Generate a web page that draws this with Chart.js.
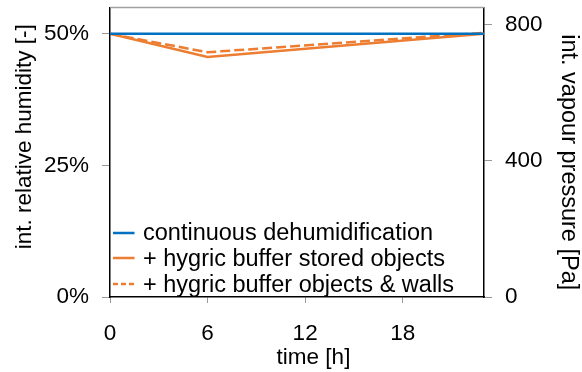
<!DOCTYPE html>
<html><head><meta charset="utf-8">
<script src="https://cdn.jsdelivr.net/npm/chart.js@4"></script>
<style>html,body{margin:0;padding:0;background:#fff}#wrap{width:582px;height:372px}</style>
</head><body><div id="wrap"><canvas id="c" width="582" height="372"></canvas></div>
<script>
const timeH = [0, 6, 23];
const continuousRH = [50, 50, 50];
const storedObjectsRH = [50, 45.6, 50];
const objectsWallsRH = [50, 46.5, 50.2];
const seriesLabels = ['continuous dehumidification', '+ hygric buffer stored objects', '+ hygric buffer objects & walls'];
const axisTitles = ['time [h]', 'int. relative humidity [-]', 'int. vapour pressure [Pa]'];
const timeTicks = [0, 6, 12, 18];
const rhTicks = [0, 25, 50];
const pTicks = [0, 400, 800];

const FONT = 'Liberation Sans, Arial, sans-serif';
const BLUE = '#0070C0', ORANGE = '#ED7D31';
const toXY = (ys) => ys.map((y, i) => ({x: timeH[i], y}));

const decoPlugin = {
  id: 'deco',
  afterDatasetsDraw(chart) {
    const ctx = chart.ctx, a = chart.chartArea;
    const lineYs = [a.bottom - 64, a.bottom - 39, a.bottom - 13];
    const baseYs = [a.bottom - 57, a.bottom - 31.5, a.bottom - 5.5];
    ctx.save();
    ctx.font = '23.5px ' + FONT;
    ctx.textBaseline = 'alphabetic';
    chart.data.datasets.forEach((ds, i) => {
      ctx.strokeStyle = ds.borderColor;
      ctx.lineWidth = 2.5;
      ctx.setLineDash(ds.borderDash && ds.borderDash.length ? [5, 3] : []);
      ctx.beginPath(); ctx.moveTo(a.left + 3, lineYs[i]); ctx.lineTo(a.left + 24.5, lineYs[i]); ctx.stroke();
      ctx.setLineDash([]);
      ctx.fillStyle = '#000';
      ctx.fillText(ds.label, a.left + 33, baseYs[i]);
    });
    ctx.strokeStyle = '#a0a0a0'; ctx.lineWidth = 1.5;
    ctx.beginPath(); ctx.moveTo(a.left, a.top); ctx.lineTo(a.right, a.top); ctx.stroke();
    ctx.restore();
  },
  afterDraw(chart) {
    const ctx = chart.ctx, a = chart.chartArea;
    const cx = (a.left + a.right) / 2, cy = (a.top + a.bottom) / 2;
    ctx.save();
    ctx.fillStyle = '#000';
    ctx.textAlign = 'center';
    ctx.textBaseline = 'middle';
    ctx.font = '22.5px ' + FONT;
    ctx.fillText(axisTitles[0], cx + 16.5, 358);
    ctx.save();
    ctx.translate(25, cy - 15.5);
    ctx.rotate(-Math.PI / 2);
    ctx.font = '22.5px ' + FONT;
    ctx.fillText(axisTitles[1], 0, 0);
    ctx.restore();
    ctx.save();
    ctx.translate(568, cy + 10);
    ctx.rotate(Math.PI / 2);
    ctx.font = '23.5px ' + FONT;
    ctx.fillText(axisTitles[2], 0, 0);
    ctx.restore();
    ctx.restore();
  }
};

const fixV = (w) => (s) => { s.width = w; s.paddingTop = 0; s.paddingBottom = 0; };
const tickFont = {family: FONT, size: 22.5};

new Chart(document.getElementById('c'), {
  type: 'line',
  data: {
    datasets: [
      {label: seriesLabels[0], data: toXY(continuousRH), borderColor: BLUE, borderWidth: 2.5, pointRadius: 0, yAxisID: 'y'},
      {label: seriesLabels[1], data: toXY(storedObjectsRH), borderColor: ORANGE, borderWidth: 2.5, pointRadius: 0, yAxisID: 'y'},
      {label: seriesLabels[2], data: toXY(objectsWallsRH), borderColor: ORANGE, borderWidth: 2.5, borderDash: [10, 4], pointRadius: 0, yAxisID: 'y'}
    ]
  },
  options: {
    responsive: false, animation: false, devicePixelRatio: 1,
    layout: {padding: {top: 7.5, left: 0, right: 0, bottom: 0}},
    plugins: {legend: {display: false}, tooltip: {enabled: false}},
    scales: {
      x: {
        type: 'linear', min: 0, max: 23,
        afterFit: s => { s.height = 75; s.paddingLeft = 0; s.paddingRight = 0; },
        afterBuildTicks: s => { s.ticks = timeTicks.map(v => ({value: v})); },
        ticks: {font: tickFont, color: '#000', padding: 17},
        grid: {drawOnChartArea: false, color: '#999', tickLength: 6},
        border: {color: '#000', width: 1.5},
        title: {display: false}
      },
      y: {
        position: 'left', min: 0, max: 55,
        afterFit: fixV(110),
        afterBuildTicks: s => { s.ticks = rhTicks.map(v => ({value: v})); },
        ticks: {font: tickFont, color: '#000', padding: 13, callback: v => v + '%'},
        grid: {drawOnChartArea: false, color: '#999', tickLength: 8},
        border: {color: '#000', width: 1.5},
        title: {display: false}
      },
      y2: {
        position: 'right', min: 0, max: 850,
        afterFit: fixV(98),
        afterBuildTicks: s => { s.ticks = pTicks.map(v => ({value: v})); },
        ticks: {font: tickFont, color: '#000', padding: 13},
        grid: {drawOnChartArea: false, color: '#999', tickLength: 8},
        border: {color: '#000', width: 1.5},
        title: {display: false}
      }
    }
  },
  plugins: [decoPlugin]
});
</script></body></html>
